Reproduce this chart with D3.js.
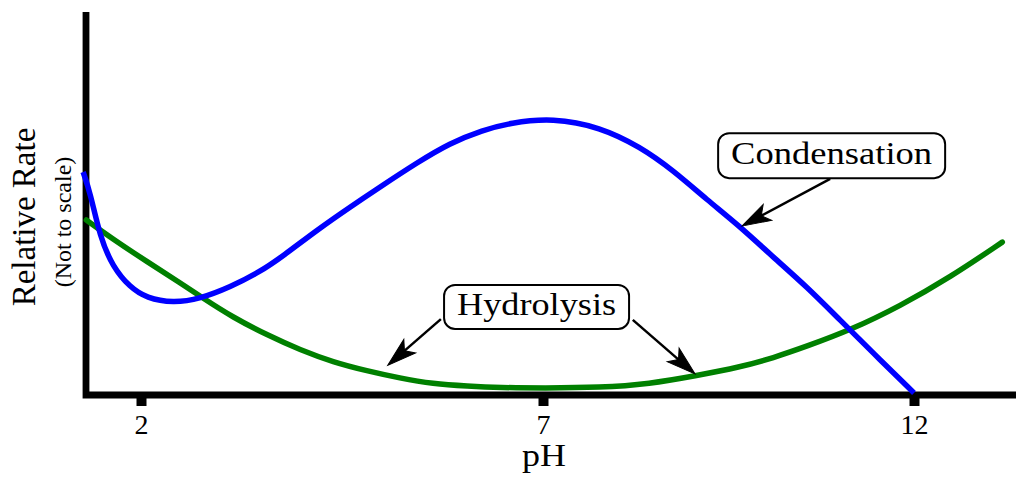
<!DOCTYPE html>
<html>
<head>
<meta charset="utf-8">
<script src="https://cdn.jsdelivr.net/npm/d3@7"></script>
<style>
html,body{margin:0;padding:0;background:#fff;}
svg{display:block;}
text{font-family:"Liberation Serif","DejaVu Serif",serif;fill:#000;}
</style>
</head>
<body>
<svg id="chart" width="1024" height="481"></svg>
<script>
// ---- data (pH, relative rate) ----
const tickValues = [2, 7, 12];
const condensationPH   = [1.28,1.37,1.49,1.65,1.86,2.07,2.40,2.73,3.11,3.48,3.77,4.19,4.60,5.01,5.43,5.84,6.25,6.59,7.13,7.77,8.31,8.75,9.21,9.65,10.10,10.56,11.00,11.45,12.00];
const condensationRate = [58.0,52.5,40.9,33.1,27.8,24.9,23.6,24.7,27.8,31.8,36.0,42.8,48.8,54.6,60.4,65.6,69.0,70.9,72.2,69.8,64.6,58.5,50.7,43.8,35.7,27.8,19.2,10.5,0.0];
const hydrolysisPH   = [1.32,1.65,2.08,2.49,2.77,3.14,3.57,3.98,4.39,4.81,5.22,5.63,6.06,6.47,7.00,7.77,8.44,9.05,9.66,10.10,10.56,11.14,11.81,12.49,13.19];
const hydrolysisRate = [45.4,40.4,34.4,28.9,24.9,19.9,15.2,11.3,8.1,5.8,3.9,2.4,1.8,1.4,1.3,1.4,2.4,4.5,6.8,9.2,12.3,16.5,22.8,30.4,39.6];
const labels = ["Condensation", "Hydrolysis"];
const xTitle = "pH";
const yTitle = "Relative Rate";
const ySubTitle = "(Not to scale)";

// annotations in data coordinates
const condBox = {ph: 10.89, rate: 62.3, w: 227, h: 45, tl: 201};
const hydBox  = {ph: 6.92,  rate: 22.6, w: 185, h: 44, tl: 159};
const arrows = [
  {from: [10.87, 56.2], to: [9.68, 43.8]},
  {from: [5.73, 19.4],  to: [5.07, 7.3]},
  {from: [8.21, 19.2],  to: [9.05, 5.0]}
];

// ---- scales ----
const svg = d3.select("#chart");
const x = d3.scaleLinear().domain([2, 7, 12]).range([141, 543, 914]);
const y = d3.scaleLinear().domain([0, 100]).range([393, 12]);

// axes
const axisX0 = 86, axisY0 = 395;
svg.append("path")
  .attr("d", `M${axisX0},${y(100)}V${axisY0}H1016`)
  .attr("fill", "none").attr("stroke", "#000")
  .attr("stroke-width", 6.8).attr("stroke-linejoin", "miter");

const xAxis = svg.append("g").attr("transform", `translate(0,${axisY0 + 3})`)
  .call(d3.axisBottom(x).tickValues(tickValues).tickSize(8).tickFormat(d3.format("d")));
xAxis.select(".domain").remove();
xAxis.selectAll(".tick line").attr("stroke", "#000").attr("stroke-width", 10);
xAxis.selectAll(".tick text")
  .attr("y", 35.5).attr("dy", 0)
  .style("font-family", '"Liberation Serif", serif')
  .style("font-size", "28px").attr("fill", "#000");

// titles
svg.append("text").attr("x", 544).attr("y", 465.5)
  .attr("text-anchor", "middle").style("font-size", "32px")
  .attr("textLength", 44).attr("lengthAdjust", "spacingAndGlyphs")
  .text(xTitle);
svg.append("text").attr("transform", "translate(35,217) rotate(-90)")
  .attr("text-anchor", "middle").style("font-size", "33px").text(yTitle);
svg.append("text").attr("transform", "translate(70.5,222) rotate(-90)")
  .attr("text-anchor", "middle").style("font-size", "24px").text(ySubTitle);

// curves
const line = d3.line().x(d => x(d[0])).y(d => y(d[1])).curve(d3.curveBasis);
const hyd = hydrolysisPH.map((p, i) => [p, hydrolysisRate[i]]);
const cond = condensationPH.map((p, i) => [p, condensationRate[i]]);
svg.append("path").datum(hyd).attr("d", line)
  .attr("fill", "none").attr("stroke", "#008000").attr("stroke-width", 5.5)
  .attr("stroke-linecap", "round");
svg.append("path").datum(cond).attr("d", line)
  .attr("fill", "none").attr("stroke", "#0000ff").attr("stroke-width", 5.5)
  .attr("stroke-linecap", "butt");

// arrows
arrows.forEach(a => {
  const x1 = x(a.from[0]), y1 = y(a.from[1]), x2 = x(a.to[0]), y2 = y(a.to[1]);
  const ang = Math.atan2(y2 - y1, x2 - x1);
  const len = Math.hypot(x2 - x1, y2 - y1);
  const g = svg.append("g").attr("transform", `translate(${x1},${y1}) rotate(${ang * 180 / Math.PI})`);
  g.append("line").attr("x1", 0).attr("y1", 0).attr("x2", len - 20).attr("y2", 0)
    .attr("stroke", "#000").attr("stroke-width", 2.5);
  g.append("path")
    .attr("d", `M${len},0L${len - 29},-9L${len - 22},0L${len - 29},9Z`)
    .attr("fill", "#000").attr("stroke", "#000").attr("stroke-width", 1).attr("stroke-linejoin", "miter");
});

// label boxes
[[condBox, labels[0]], [hydBox, labels[1]]].forEach(([b, t]) => {
  const cx = x(b.ph), cy = y(b.rate);
  svg.append("rect").attr("x", cx - b.w / 2).attr("y", cy - b.h / 2)
    .attr("width", b.w).attr("height", b.h).attr("rx", 11).attr("ry", 11)
    .attr("fill", "#fff").attr("stroke", "#000").attr("stroke-width", 2);
  svg.append("text").attr("x", cx).attr("y", cy + 8)
    .attr("text-anchor", "middle").style("font-size", "31px")
    .attr("textLength", b.tl).attr("lengthAdjust", "spacingAndGlyphs")
    .text(t);
});
</script>
</body>
</html>
